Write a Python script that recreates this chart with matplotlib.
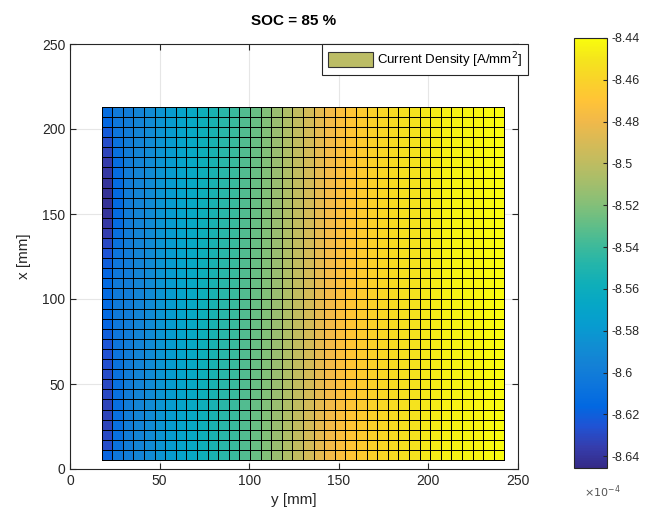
import numpy as np
import matplotlib
matplotlib.use("Agg")
import matplotlib.pyplot as plt
from matplotlib.colors import LinearSegmentedColormap
from matplotlib.patches import Patch

plt.rcParams['font.family'] = ['Liberation Sans', 'DejaVu Sans']
plt.rcParams['axes.unicode_minus'] = False

# Current density, units of 1e-4 A/mm^2, one value per column (along y), left to right
col_profile = [-8.625, -8.607, -8.600, -8.594, -8.589, -8.583, -8.577, -8.571,
               -8.565, -8.559, -8.553, -8.547, -8.541, -8.534, -8.527, -8.520,
               -8.513, -8.506, -8.499, -8.492, -8.485, -8.479, -8.474, -8.469,
               -8.465, -8.461, -8.458, -8.455, -8.453, -8.451, -8.449, -8.447,
               -8.446, -8.445, -8.444, -8.443, -8.442, -8.441]

# first two columns vary along x (bottom row first)
first_col = [-8.618, -8.628, -8.630, -8.632, -8.632, -8.632, -8.630, -8.630,
             -8.628, -8.627, -8.626, -8.624, -8.620, -8.617, -8.615, -8.614,
             -8.614, -8.615, -8.617, -8.620, -8.625, -8.630, -8.635, -8.638,
             -8.640, -8.641, -8.641, -8.640, -8.638, -8.636, -8.632, -8.628,
             -8.622, -8.616, -8.612]
second_col = [-8.604, -8.608, -8.610, -8.611, -8.611, -8.611, -8.610, -8.610,
              -8.609, -8.608, -8.607, -8.606, -8.605, -8.604, -8.603, -8.603,
              -8.603, -8.603, -8.604, -8.605, -8.607, -8.609, -8.611, -8.613,
              -8.614, -8.615, -8.615, -8.614, -8.613, -8.612, -8.610, -8.608,
              -8.606, -8.604, -8.602]

cbar_ticks = [-8.64, -8.62, -8.6, -8.58, -8.56, -8.54, -8.52, -8.5, -8.48, -8.46, -8.44]
axis_ticks = [0, 50, 100, 150, 200, 250]

n_rows = len(first_col)
n_cols = len(col_profile)
Z = np.tile(np.array(col_profile), (n_rows, 1))
Z[:, 0] = first_col
Z[:, 1] = second_col

# cell edges [mm]
y_edges = np.linspace(17.6, 242.4, n_cols + 1)
x_edges = np.linspace(5.3, 213.0, n_rows + 1)

# MATLAB parula (approx.)
parula = LinearSegmentedColormap.from_list("parula", [
    (0.2081, 0.1663, 0.5292), (0.2081, 0.2386, 0.6771), (0.1253, 0.3242, 0.8303),
    (0.0060, 0.4086, 0.8828), (0.0498, 0.4586, 0.8641), (0.0779, 0.5040, 0.8384),
    (0.0641, 0.5570, 0.8240), (0.0265, 0.6137, 0.8135), (0.0228, 0.6535, 0.7768),
    (0.0590, 0.6838, 0.7254), (0.1453, 0.7098, 0.6646), (0.2586, 0.7317, 0.5954),
    (0.3953, 0.7459, 0.5244), (0.5300, 0.7491, 0.4661), (0.6473, 0.7456, 0.4188),
    (0.7525, 0.7384, 0.3768), (0.8507, 0.7299, 0.3360), (0.9450, 0.7261, 0.2886),
    (0.9990, 0.7653, 0.2164), (0.9789, 0.8271, 0.1633), (0.9589, 0.8949, 0.1132),
    (0.9763, 0.9831, 0.0538)], N=256)

txt = '#262626'
fig = plt.figure(figsize=(6.52, 5.29), dpi=100)
ax = fig.add_axes([70 / 652, 1 - 469 / 529, 448 / 652, 425 / 529])
cax = fig.add_axes([574 / 652, 1 - 468 / 529, 33 / 652, 430 / 529])

mesh = ax.pcolormesh(y_edges, x_edges, Z, cmap=parula, vmin=-8.6456, vmax=-8.4404,
                     edgecolors='black', linewidth=0.6, zorder=2)

ax.set_xlim(0, 250)
ax.set_ylim(0, 250)
ax.set_xticks(axis_ticks)
ax.set_yticks(axis_ticks)
ax.grid(True, color='#e6e6e6', linewidth=0.8, zorder=0)
ax.set_axisbelow(True)
ax.tick_params(direction='in', length=4, labelsize=10, colors=txt, top=True, right=True)
for s in ax.spines.values():
    s.set_color(txt)
    s.set_linewidth(0.8)
ax.set_xlabel('y [mm]', fontsize=11, color=txt, labelpad=4)
ax.set_ylabel('x [mm]', fontsize=11, color=txt, labelpad=8)
ax.set_title('SOC = 85 %', fontsize=11, fontweight='bold', color='black', pad=14)

leg = ax.legend(handles=[Patch(facecolor='#bcbd66', edgecolor='#333333', linewidth=0.8,
                               label='Current Density [A/mm$^2$]')],
                loc='upper right', bbox_to_anchor=(528 / 652, 1 - 44 / 529),
                bbox_transform=fig.transFigure, fontsize=9.5, fancybox=False,
                framealpha=1, edgecolor='#262626', handlelength=3.4, handleheight=1.3,
                borderpad=0.45, handletextpad=0.3, borderaxespad=0)
leg.get_frame().set_linewidth(0.8)

cb = fig.colorbar(mesh, cax=cax)
cb.set_ticks(cbar_ticks)
cb.set_ticklabels(['%g' % t for t in cbar_ticks])
cb.ax.tick_params(direction='in', length=3, labelsize=9, colors=txt)
cb.outline.set_linewidth(0.8)
cb.outline.set_edgecolor(txt)
fig.text(602 / 652, 1 - 492 / 529, r'$\times 10^{-4}$', fontsize=8, color='#555555',
         ha='center', va='center')

fig.savefig('out.png', dpi=100)
